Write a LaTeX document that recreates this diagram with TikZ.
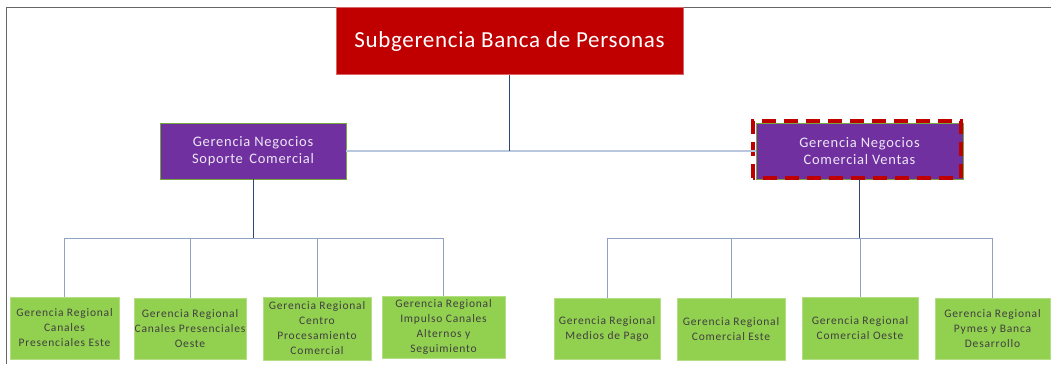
\documentclass[tikz,border=0pt]{standalone}
\usepackage{fontspec}
\setmainfont{Carlito}
\definecolor{topred}{HTML}{C00000}
\definecolor{purp}{HTML}{7030A0}
\definecolor{grn}{HTML}{92D050}
\definecolor{navy}{HTML}{2F4576}
\definecolor{paleblue}{HTML}{B8C7DE}
\definecolor{midblue}{HTML}{8FA2C2}
\definecolor{txtgray}{HTML}{404040}
\definecolor{lav}{HTML}{EDE6F5}
\begin{document}
\begin{tikzpicture}[x=1pt,y=-1pt,
  topbox/.style={fill=topred,draw=topred!60!white,line width=0.6pt,text=white,font=\fontsize{23}{26}\selectfont\addfontfeatures{LetterSpace=3},inner sep=0pt},
  midbox/.style={fill=purp,draw=grn!80!black,line width=0.7pt,text=lav,font=\fontsize{14.5}{17}\selectfont\addfontfeatures{LetterSpace=5},align=center,inner sep=0pt},
  leaf/.style={fill=grn,draw=grn!70!white,line width=0.6pt,text=txtgray,font=\fontsize{11.5}{15}\selectfont\addfontfeatures{LetterSpace=7},align=center,inner sep=0pt},
  darkline/.style={draw=navy,line width=0.8pt},
  paleline/.style={draw=paleblue,line width=1.4pt},
  kidline/.style={draw=midblue,line width=1pt}]
\useasboundingbox (0,0) rectangle (1051,364);
\fill[white] (0,0) rectangle (1051,364);
% frame
\draw[draw=txtgray!80,line width=1.4pt] (6.5,364) -- (6.5,7.5) -- (1051,7.5);

\node[topbox,minimum width=347pt,minimum height=67pt] (top) at (509.5,41) {Subgerencia Banca de Personas};
\node[midbox,minimum width=186pt,minimum height=56pt] (L) at (253,151) {Gerencia Negocios\\Soporte\, Comercial};
\node[midbox,minimum width=207pt,minimum height=56pt] (R) at (859.5,151) {Gerencia Negocios\\Comercial Ventas};
\draw[draw=topred,line width=3.8pt,dash pattern=on 14pt off 8pt] ([shift={(-3,-1.5)}]R.south west) rectangle ([shift={(-2,-1.5)}]R.north east);

\node[leaf,minimum width=109pt,minimum height=62pt] (c1) at (64.5,328) {Gerencia Regional\\Canales\\Presenciales Este};
\node[leaf,minimum width=112pt,minimum height=61pt] (c2) at (190,328.5) {Gerencia Regional\\Canales Presenciales\\Oeste};
\node[leaf,minimum width=108pt,minimum height=63pt] (c3) at (317,328.5) {Gerencia Regional\\Centro\\Procesamiento\\Comercial};
\node[leaf,minimum width=123pt,minimum height=62pt] (c4) at (443.5,327) {Gerencia Regional\\Impulso Canales\\Alternos y\\Seguimiento};
\node[leaf,minimum width=106pt,minimum height=61pt] (c5) at (607,328.5) {Gerencia Regional\\Medios de Pago};
\node[leaf,minimum width=108pt,minimum height=62pt] (c6) at (731,329) {Gerencia Regional\\Comercial Este};
\node[leaf,minimum width=116pt,minimum height=62pt] (c7) at (860,328) {Gerencia Regional\\Comercial Oeste};
\node[leaf,minimum width=115pt,minimum height=61pt] (c8) at (992.5,328.5) {Gerencia Regional\\Pymes y Banca\\Desarrollo};

% connectors
\coordinate (hub) at (top.south |- L.east);
\coordinate (lb) at ([yshift=-59pt]L.south);
\coordinate (rb) at ([yshift=-59pt]R.south);
\draw[paleline] (L.east) -- (R.west);
\draw[darkline] (top.south) -- (hub);
\draw[kidline] (c1.north) |- (lb);
\draw[kidline] (c2.north) |- (lb);
\draw[kidline] (c3.north) |- (lb);
\draw[kidline] (c4.north) |- (lb);
\draw[kidline] (c5.north) |- (rb);
\draw[kidline] (c6.north) |- (rb);
\draw[kidline] (c7.north) |- (rb);
\draw[kidline] (c8.north) |- (rb);
\draw[darkline] (L.south) -- (lb);
\draw[darkline] (R.south) -- (rb);
\end{tikzpicture}
\end{document}
